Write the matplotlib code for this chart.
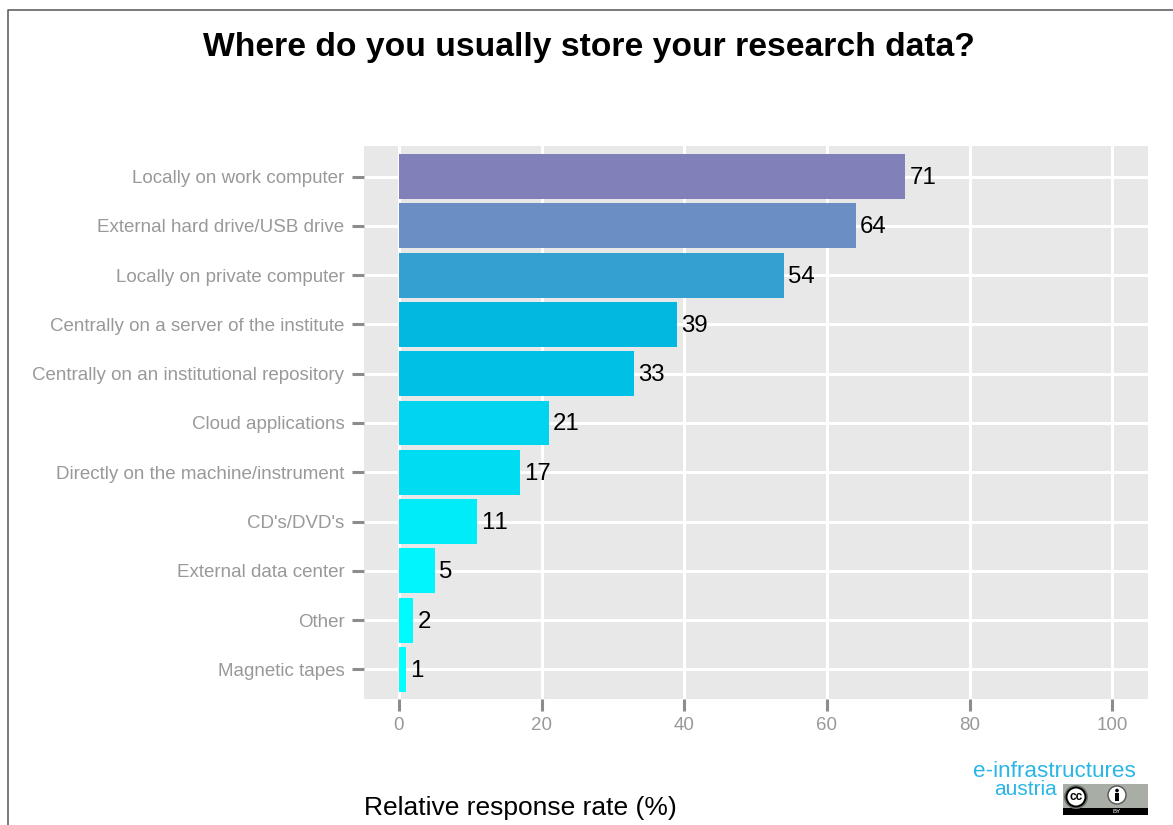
import matplotlib
matplotlib.use("Agg")
import matplotlib.pyplot as plt
from matplotlib.lines import Line2D
from matplotlib.patches import Rectangle, Ellipse

categories = ["Magnetic tapes", "Other", "External data center", "CD's/DVD's",
              "Directly on the machine/instrument", "Cloud applications",
              "Centrally on an institutional repository",
              "Centrally on a server of the institute",
              "Locally on private computer", "External hard drive/USB drive",
              "Locally on work computer"]
values = [1, 2, 5, 11, 17, 21, 33, 39, 54, 64, 71]
colors = ["#00FFFF", "#00FBFF", "#00F6FC", "#00ECF8", "#00DCF2", "#00D4EE",
          "#00C0E6", "#00B8E0", "#33A0D2", "#6B8EC4", "#8280B8"]
x_ticks = [0, 20, 40, 60, 80, 100]

W, H = 1173, 825
plt.rcParams["font.family"] = ["Liberation Sans", "DejaVu Sans"]
plt.rcParams["text.kerning_factor"] = 6
fig = plt.figure(figsize=(W / 100, H / 100), dpi=100, facecolor="white")


def fx(p):
    return p / W


def fy(p):
    return 1 - p / H


ax = fig.add_axes([fx(364), fy(699), fx(1148) - fx(364), fy(146) - fy(699)])
ax.set_facecolor("#E8E8E8")
ypos = list(range(len(categories)))
ax.barh(ypos, values, height=0.91, color=colors, zorder=3)
ax.set_xlim(-4.9, 105.0)
ax.set_ylim(-0.6, 10.62)
ax.set_yticks(ypos, categories)
ax.set_xticks(x_ticks)
ax.grid(True, color="white", linewidth=2.2, zorder=1)
ax.set_axisbelow(True)
for s in ax.spines.values():
    s.set_visible(False)
ax.tick_params(axis="both", length=8.6, width=2.2, color="#8C8C8C",
               labelcolor="#999999", labelsize=13.5, pad=5.5)
ax.tick_params(axis="x", pad=4.5)

for y, v in zip(ypos, values):
    ax.annotate(str(v), (v, y), xytext=(3, -1), textcoords="offset points",
                va="center", ha="left", fontsize=17.3, color="black", zorder=4)

fig.text(fx(589), fy(56), "Where do you usually store your research data?",
         ha="center", va="baseline", fontsize=24.2, fontweight="bold", color="black")
fig.text(fx(364), fy(815), "Relative response rate (%)", ha="left", va="baseline",
         fontsize=19, color="black")

# outer frame
fig.add_artist(Line2D([fx(8), fx(8), 1], [0, fy(10), fy(10)], color="#555555", lw=1.1))

# logo text
fig.text(fx(1136), fy(777), "e-infrastructures", ha="right", va="baseline",
         fontsize=16.2, color="#29B6E6")
fig.text(fx(1057), fy(795), "austria", ha="right", va="baseline",
         fontsize=15.0, color="#29B6E6")

# licence badge
fig.add_artist(Rectangle((fx(1063), fy(815)), fx(85), fy(784) - fy(815),
                         transform=fig.transFigure, facecolor="#A8ADA6",
                         edgecolor="none"))
fig.add_artist(Rectangle((fx(1063), fy(815)), fx(85), fy(808) - fy(815),
                         transform=fig.transFigure, facecolor="black",
                         edgecolor="none"))


def disk(cx, cy, r, fc, ec="none", lw=0.0):
    fig.add_artist(Ellipse((fx(cx), fy(cy)), 2 * r / W, 2 * r / H,
                           transform=fig.transFigure, facecolor=fc,
                           edgecolor=ec, linewidth=lw, zorder=5))


disk(1076, 797, 12, "#6E726C")
disk(1076, 797, 9.5, "white", "black", 1.4)
fig.text(fx(1076), fy(796.5), "cc", ha="center", va="center", fontsize=8.5,
         fontweight="bold", color="black", zorder=6)
disk(1117, 795, 9, "white", "#555555", 1.0)
disk(1117, 790.5, 1.8, "black")
fig.add_artist(Rectangle((fx(1115), fy(801)), fx(4), fy(793) - fy(801),
                         transform=fig.transFigure, facecolor="black",
                         edgecolor="none", zorder=6))
fig.text(fx(1117), fy(811.5), "BY", ha="center", va="center", fontsize=4.5, color="white")

fig.savefig("out.png", dpi=100, facecolor="white")
